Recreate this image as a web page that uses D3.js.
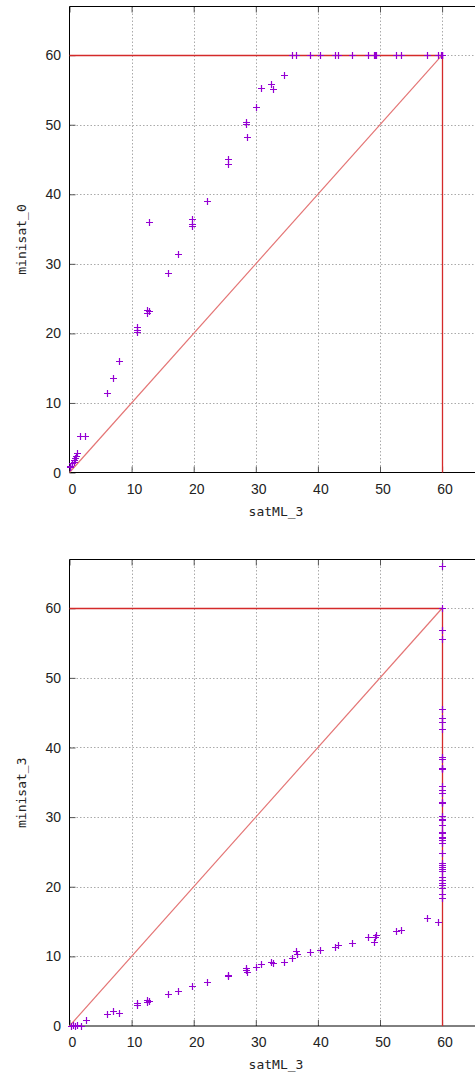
<!DOCTYPE html>
<html>
<head>
<meta charset="utf-8">
<script src="https://cdn.jsdelivr.net/npm/d3@7"></script>
<style>
  body { margin: 0; background: #fff; }
  .tick-label { font-family: "Liberation Sans", Arial, sans-serif; font-size: 14px; fill: #222; }
  .axis-label { font-family: "DejaVu Sans Mono", monospace; font-size: 13px; fill: #222; }
</style>
</head>
<body>
<div id="content"></div>
<script>
var Width = 475;
var Height = 1075;

// 刻度
var xTicks = [0, 10, 20, 30, 40, 50, 60];
var yTicks = [0, 10, 20, 30, 40, 50, 60];

// 上图: satML_3 vs minisat_0
var satML3_a = [0, 0, 0, 0.15, 0.4, 0.65, 0.8, 0.9, 1.05, 1.15, 1.7, 2.5,
  6.1, 7.05, 7.9, 10.9, 10.9, 10.9, 12.4, 12.8, 12.4, 12.85, 15.8, 17.5,
  19.8, 19.8, 19.8, 22.1, 25.6, 25.6, 28.6, 28.4, 28.5, 30.0, 30.8, 32.4,
  32.7, 34.5, 35.9, 36.5, 38.7, 40.4, 42.75, 43.2, 45.5, 48.0, 49.0, 49.2,
  49.35, 52.6, 53.4, 57.5, 59.4, 59.8, 60, 60, 60];
var minisat0 = [0.8, 0.8, 0.9, 1.0, 1.3, 1.5, 1.8, 2.1, 2.4, 2.8, 5.3, 5.3,
  11.4, 13.6, 16.1, 20.9, 20.5, 20.2, 23.4, 23.2, 23.0, 36.05, 28.7, 31.4,
  36.4, 35.8, 35.4, 39.1, 45.1, 44.4, 48.3, 50.4, 50.1, 52.5, 55.3, 55.8,
  55.2, 57.2, 60, 60, 60, 60, 60, 60, 60, 60, 60, 60,
  60, 60, 60, 60, 60, 60, 60, 60, 60];

// 下图: satML_3 vs minisat_3
var satML3_b = [0.3, 0.6, 0.9, 1.2, 1.85, 2.6, 6.1, 7.05, 7.9, 10.9, 10.9,
  12.4, 12.8, 12.4, 15.8, 17.5, 19.8, 22.1, 25.6, 25.6, 28.4, 28.6, 28.4,
  30.0, 30.8, 32.4, 32.7, 34.5, 35.9, 36.5, 36.6, 38.7, 40.4, 42.75, 43.2,
  45.5, 48.0, 49.0, 49.2, 49.35, 52.6, 53.4, 57.5, 59.4,
  60, 60, 60, 60, 60, 60, 60, 60, 60, 60, 60, 60, 60, 60, 60, 60, 60, 60,
  60, 60, 60, 60, 60, 60, 60, 60, 60, 60, 60, 60, 60, 60, 60, 60, 60, 60,
  60, 60, 60, 60, 60];
var minisat3 = [0, 0.1, 0, 0.15, 0, 0.86, 1.68, 2.16, 1.8, 3.26, 3.0,
  3.7, 3.6, 3.5, 4.6, 5.0, 5.75, 6.3, 7.3, 7.2, 8.3, 7.8, 8.0,
  8.5, 8.9, 9.25, 9.1, 9.15, 9.8, 10.8, 10.3, 10.6, 10.9, 11.4, 11.6,
  11.9, 12.8, 12.0, 12.8, 13.1, 13.65, 13.8, 15.5, 14.9,
  66.0, 60.1, 56.9, 55.6, 45.5, 44.2, 43.7, 42.7, 38.6, 38.3, 37.1, 37.0,
  36.9, 34.5, 33.9, 33.5, 32.2, 32.0, 30.1, 29.8, 29.6, 28.9, 27.9, 27.7,
  27.2, 27.0, 26.7, 26.3, 24.8, 23.4, 23.1, 22.9, 22.6, 22.2, 21.45, 20.98,
  20.6, 20.3, 19.8, 19.0, 18.4, 17.6, 17.3, 16.5, 15.7];

var svg = d3
  .select("#content")
  .append("svg")
  .attr("width", Width)
  .attr("height", Height);

// 画一个散点面板
function drawPanel(top, bottom, xs, ys, yName) {
  var left = 69.5;
  var xScale = d3.scaleLinear().domain([0, 67]).range([left, left + 67 * 6.21]);
  var yScale = d3.scaleLinear().domain([0, 67]).range([bottom, top]);
  var right = xScale(67);
  var px = (v) => Math.round(xScale(v)) + 0.5;
  var py = (v) => Math.round(yScale(v)) + 0.5;
  var g = svg.append("g");

  // 网格
  g.selectAll(".vgrid")
    .data(xTicks.slice(1))
    .enter()
    .append("line")
    .attr("class", "vgrid")
    .attr("x1", px)
    .attr("x2", px)
    .attr("y1", top)
    .attr("y2", bottom)
    .attr("stroke", "#aaa")
    .attr("stroke-dasharray", "1.5,2");
  g.selectAll(".hgrid")
    .data(yTicks.slice(1))
    .enter()
    .append("line")
    .attr("class", "hgrid")
    .attr("x1", left)
    .attr("x2", right)
    .attr("y1", py)
    .attr("y2", py)
    .attr("stroke", "#aaa")
    .attr("stroke-dasharray", "1.5,2");

  // 坐标轴 (刻度朝内, 上下左都画)
  var xAxisB = d3.axisTop(xScale).tickValues(xTicks).tickSize(6).tickFormat("");
  var xAxisT = d3.axisBottom(xScale).tickValues(xTicks).tickSize(6).tickFormat("");
  var yAxisL = d3.axisRight(yScale).tickValues(yTicks).tickSize(6).tickFormat("");
  g.append("g").attr("transform", "translate(0," + bottom + ")").call(xAxisB);
  g.append("g").attr("transform", "translate(0," + top + ")").call(xAxisT);
  g.append("g").attr("transform", "translate(" + left + ",0)").call(yAxisL);
  g.selectAll(".domain").remove();
  g.selectAll(".tick line").attr("stroke", "#555");

  // 边框
  g.append("path")
    .attr("d", "M" + right + "," + top + "H" + left + "V" + bottom + "H" + right)
    .attr("fill", "none")
    .attr("stroke", "#000");

  // 刻度文字
  g.selectAll(".xl")
    .data(xTicks)
    .enter()
    .append("text")
    .attr("class", "tick-label xl")
    .attr("x", (d) => xScale(d) + 3)
    .attr("y", bottom + 21)
    .style("text-anchor", "middle")
    .text((d) => d);
  g.selectAll(".yl")
    .data(yTicks)
    .enter()
    .append("text")
    .attr("class", "tick-label yl")
    .attr("x", 61)
    .attr("y", (d) => yScale(d))
    .attr("dy", "0.36em")
    .style("text-anchor", "end")
    .text((d) => d);

  // 参考线 y=x
  g.append("line")
    .attr("x1", xScale(0)).attr("y1", yScale(0))
    .attr("x2", xScale(60)).attr("y2", yScale(60))
    .attr("stroke", "#e47575")
    .attr("stroke-width", 1.2);
  // 60 的超时线
  g.append("line")
    .attr("x1", left).attr("x2", px(60))
    .attr("y1", py(60)).attr("y2", py(60))
    .attr("stroke", "#d42a2a")
    .attr("stroke-width", 1.3);
  g.append("line")
    .attr("x1", px(60)).attr("x2", px(60))
    .attr("y1", py(60)).attr("y2", bottom)
    .attr("stroke", "#d42a2a")
    .attr("stroke-width", 1.3);

  // 散点 "+"
  var pts = xs.map((x, i) => [x, ys[i]]);
  g.selectAll(".pt")
    .data(pts)
    .enter()
    .append("path")
    .attr("class", "pt")
    .attr("d", (d) => {
      var cx = px(d[0]);
      var cy = py(d[1]);
      return "M" + (cx - 3.5) + "," + cy + "H" + (cx + 3.5) +
        "M" + cx + "," + (cy - 3.5) + "V" + (cy + 3.5);
    })
    .attr("stroke", "#9400d3")
    .attr("stroke-width", 1.2)
    .attr("fill", "none");

  // 轴标题
  g.append("text")
    .attr("class", "axis-label")
    .attr("x", 276)
    .attr("y", bottom + 43)
    .style("text-anchor", "middle")
    .text("satML_3");
  g.append("text")
    .attr("class", "axis-label")
    .attr("transform", "translate(26," + (top + bottom) / 2 + ") rotate(-90)")
    .style("text-anchor", "middle")
    .text(yName);
}

drawPanel(6.5, 472.5, satML3_a, minisat0, "minisat_0");
drawPanel(559.5, 1026, satML3_b, minisat3, "minisat_3");
</script>
</body>
</html>
